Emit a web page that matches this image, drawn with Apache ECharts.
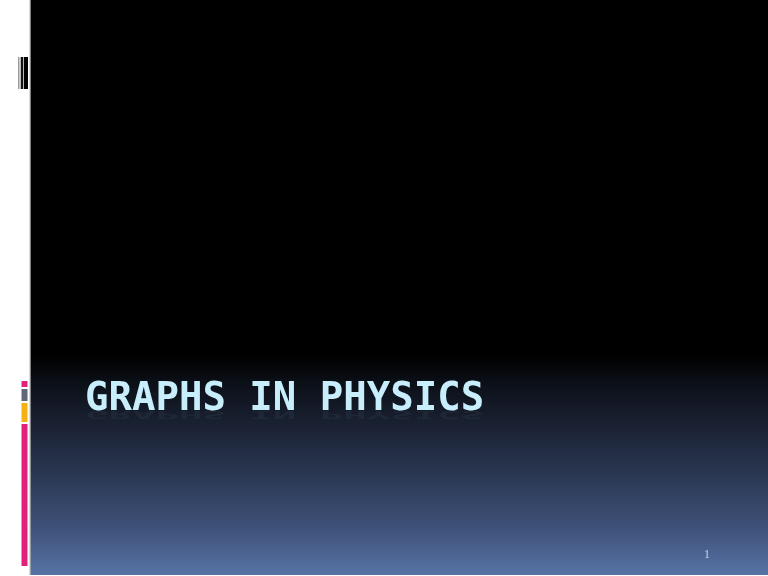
<!DOCTYPE html>
<html>
<head>
<meta charset="utf-8">
<style>
html,body{margin:0;padding:0;background:#fff;}
#chart{width:768px;height:576px;}
</style>
<script src="https://cdn.jsdelivr.net/npm/echarts@6/dist/echarts.min.js"></script>
</head>
<body>
<div id="chart"></div>
<script>
// Slide content
var titleText = 'GRAPHS IN PHYSICS';
var pageNumber = '1';
// Background gradient stops (offset, colour)
var gradientOffsets = [0, 0.62, 0.66, 0.75, 0.835, 0.92, 1];
var gradientColors = ['#000000', '#000000', '#0a0e15', '#1c2436', '#2c3a56', '#3f5279', '#5773a6'];
// Decorative bars on the left margin
var topBarColors = ['#9a9a9a', '#111111', '#000000'];
var sideBarColors = ['#e0207a', '#5e6878', '#f5b014', '#e0207a'];

var chart = echarts.init(document.getElementById('chart'), null, {renderer: 'canvas'});

var stops = gradientOffsets.map(function (o, i) { return {offset: o, color: gradientColors[i]}; });

var graphics = [
  {type: 'rect', shape: {x: 0, y: 0, width: 768, height: 576}, style: {fill: '#ffffff'}, silent: true},
  {type: 'rect', shape: {x: 30, y: 0, width: 738, height: 575},
    style: {fill: new echarts.graphic.LinearGradient(0, 0, 0, 1, stops)}, silent: true},
  {type: 'rect', shape: {x: 29.5, y: 0, width: 1.2, height: 575}, style: {fill: '#b8b8b8'}, silent: true},
  // top-left bars
  {type: 'rect', shape: {x: 18, y: 57, width: 1.5, height: 32}, style: {fill: topBarColors[0]}, silent: true},
  {type: 'rect', shape: {x: 20.7, y: 57, width: 2.6, height: 32}, style: {fill: topBarColors[1]}, silent: true},
  {type: 'rect', shape: {x: 24, y: 57, width: 4, height: 32}, style: {fill: topBarColors[2]}, silent: true},
  // side coloured bars
  {type: 'rect', shape: {x: 21.5, y: 381, width: 6, height: 6}, style: {fill: sideBarColors[0]}, silent: true},
  {type: 'rect', shape: {x: 21.5, y: 389, width: 6, height: 12}, style: {fill: sideBarColors[1]}, silent: true},
  {type: 'rect', shape: {x: 21.5, y: 403, width: 6, height: 19}, style: {fill: sideBarColors[2]}, silent: true},
  {type: 'rect', shape: {x: 21.5, y: 424, width: 6, height: 142}, style: {fill: sideBarColors[3]}, silent: true},
  // title reflection (very faint)
  {type: 'text', x: 85, y: 409, scaleY: -0.25, silent: true,
    style: {text: titleText, fill: 'rgba(198,236,250,0.05)', font: 'bold 39px "DejaVu Sans Mono"', verticalAlign: 'bottom'}},
  // title
  {type: 'text', x: 85, y: 380, silent: true,
    style: {text: titleText, fill: '#c8eefc', font: 'bold 39px "DejaVu Sans Mono"', verticalAlign: 'top'}},
  // page number
  {type: 'text', x: 707, y: 549, silent: true,
    style: {text: pageNumber, fill: '#c8d6ee', font: '12px "Liberation Serif"', align: 'center', verticalAlign: 'top'}}
];

chart.setOption({
  animation: false,
  backgroundColor: '#ffffff',
  graphic: {elements: graphics}
});
</script>
</body>
</html>
